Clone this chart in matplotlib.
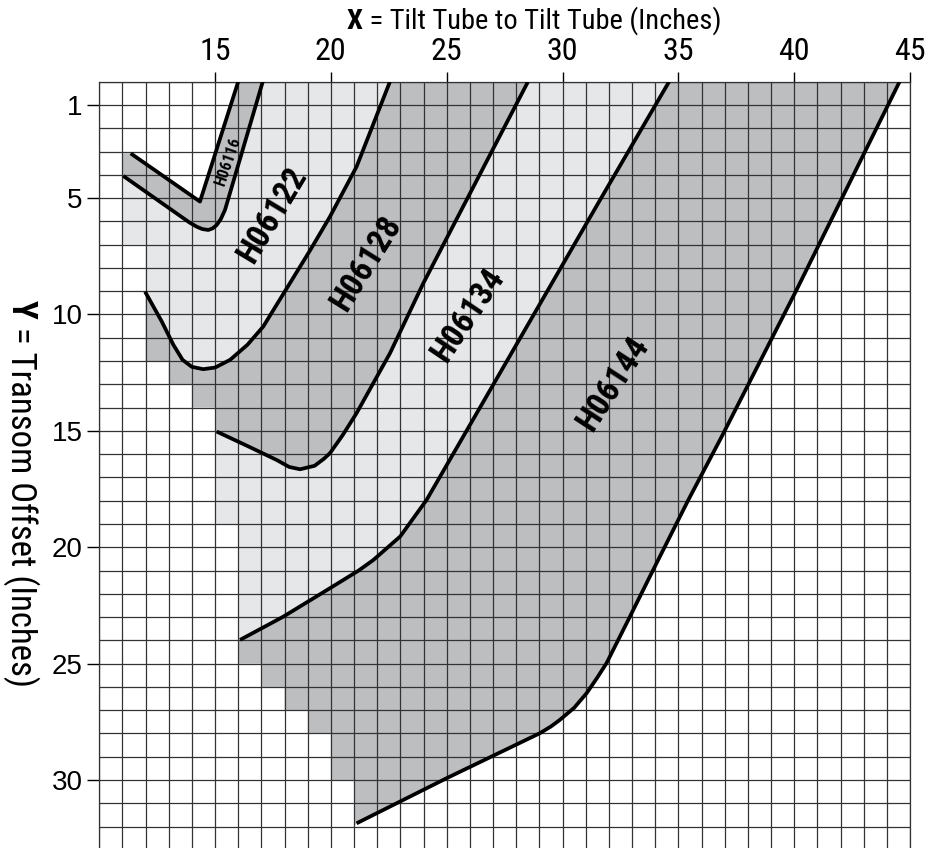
import matplotlib
matplotlib.use('Agg')
import matplotlib.pyplot as plt
from matplotlib.patches import Polygon
from matplotlib.ticker import MultipleLocator

NARROW = ['Roboto Condensed', 'PT Sans Narrow', 'DejaVu Sans']
REGULAR = ['Liberation Sans', 'DejaVu Sans']
plt.rcParams['font.family'] = NARROW

LIGHT = '#e6e7e8'
DARK = '#bcbec0'

# boundary curves: each runs from its lower-left end up to the top edge
edge_a_x = [11.36, 14.35, 16.0]                      # upper edge of H06116
edge_a_y = [3.08, 5.15, 0.0]
edge_b_x = [11.04, 13.9, 14.21, 14.45, 14.71, 14.9, 15.07, 15.25, 15.43, 17.06]
edge_b_y = [4.05, 6.05, 6.23, 6.33, 6.37, 6.3, 6.16, 5.9, 5.51, 0.0]
edge_c_x = [11.98, 12.7, 13.2, 13.6, 14.0, 14.49, 15.0, 15.65, 16.4, 17.08, 18.23, 19.1,
            19.96, 21.11, 22.55]
edge_c_y = [9.02, 10.3, 11.3, 11.95, 12.25, 12.35, 12.28, 11.95, 11.3, 10.52, 8.66, 7.25,
            5.8, 3.65, 0.0]
edge_d_x = [15.07, 16.4, 17.66, 18.2, 18.67, 19.3, 19.7, 19.96, 20.5, 21.11, 22.55, 23.99, 28.51]
edge_d_y = [15.03, 15.65, 16.25, 16.55, 16.65, 16.5, 16.2, 15.96, 15.2, 14.24, 11.67, 8.66, 0.0]
edge_e_x = [16.08, 17.95, 19.96, 21.2, 21.83, 22.99, 24.13, 31.62, 34.6]
edge_e_y = [23.98, 22.98, 21.76, 21.0, 20.55, 19.54, 17.97, 5.08, 0.0]
edge_f_x = [21.11, 25.0, 29.02, 29.5, 29.88, 30.5, 31.04, 31.5, 31.9, 32.91, 33.91, 35.43,
            36.87, 40.1, 44.55]
edge_f_y = [31.86, 29.92, 27.99, 27.7, 27.42, 26.9, 26.27, 25.6, 24.98, 22.98, 20.98, 17.97,
            15.25, 8.95, 0.0]

# stepped left side of each band: grid column -> lowest row it reaches
h06116_cols, h06116_rows = [11], [4.05]
h06122_cols, h06122_rows = [11, 12], [7, 9]
h06128_cols, h06128_rows = [12, 13, 14, 15], [12, 13, 14, 15]
h06134_cols, h06134_rows = [15, 16], [19, 24]
h06144_cols, h06144_rows = [16, 17, 18, 19, 20, 21], [25, 26, 27, 28, 30, 32]

labels = ['H06116', 'H06122', 'H06128', 'H06134', 'H06144']
label_x = [15.55, 17.49, 21.55, 25.94, 32.2]
label_y = [3.45, 5.73, 7.8, 10.02, 13.0]
label_rot = [71, 59, 58, 56, 57]
label_size = [11.5, 24, 24, 24, 24]

x_ticks = [15, 20, 25, 30, 35, 40, 45]
y_ticks = [1, 5, 10, 15, 20, 25, 30]


def band(ux, uy, lx, ly, cols, rows):
    pts = list(zip(ux[::-1], uy[::-1]))
    y = uy[0]
    for c, r in zip(cols, rows):
        pts += [(c, y), (c, r)]
        y = r
    pts += list(zip(lx, ly))
    return pts


fig = plt.figure(figsize=(9.42, 8.48), dpi=100)
ax = fig.add_axes([99.2 / 942, 0, 810.8 / 942, 766.3 / 848])
ax.set_xlim(10, 45)
ax.set_ylim(32.92, 0)

bands = [
    (edge_a_x, edge_a_y, edge_b_x, edge_b_y, h06116_cols, h06116_rows, DARK),
    (edge_b_x, edge_b_y, edge_c_x, edge_c_y, h06122_cols, h06122_rows, LIGHT),
    (edge_c_x, edge_c_y, edge_d_x, edge_d_y, h06128_cols, h06128_rows, DARK),
    (edge_d_x, edge_d_y, edge_e_x, edge_e_y, h06134_cols, h06134_rows, LIGHT),
    (edge_e_x, edge_e_y, edge_f_x, edge_f_y, h06144_cols, h06144_rows, DARK),
]
for ux, uy, lx, ly, cols, rows, col in bands:
    ax.add_patch(Polygon(band(ux, uy, lx, ly, cols, rows), closed=True,
                         facecolor=col, edgecolor='none', zorder=0.2))

for ex, ey in [(edge_a_x, edge_a_y), (edge_b_x, edge_b_y), (edge_c_x, edge_c_y),
               (edge_d_x, edge_d_y), (edge_e_x, edge_e_y), (edge_f_x, edge_f_y)]:
    ax.plot(ex, ey, color='black', lw=2.7, solid_joinstyle='round',
            solid_capstyle='butt', zorder=3)

for name, lx, ly, rot, fs in zip(labels, label_x, label_y, label_rot, label_size):
    ax.text(lx, ly, name, rotation=rot, rotation_mode='anchor', ha='center',
            va='center', fontsize=fs, fontweight='bold', zorder=4)

# grid
ax.set_axisbelow(True)
ax.xaxis.set_ticks_position('top')
ax.xaxis.set_label_position('top')
ax.set_xticks(x_ticks)
ax.set_yticks(y_ticks)
ax.xaxis.set_minor_locator(MultipleLocator(1))
ax.yaxis.set_minor_locator(MultipleLocator(1))
ax.tick_params(which='minor', length=0)
ax.tick_params(axis='x', which='major', length=7, width=1, pad=4, labelsize=23)
ax.tick_params(axis='y', which='major', length=9, width=1, pad=3, labelsize=20)
for lab in ax.get_yticklabels():
    lab.set_family(REGULAR)
ax.grid(which='both', color='#333333', lw=0.9)
for s in ['top', 'left', 'right']:
    ax.spines[s].set_color('#333333')
    ax.spines[s].set_linewidth(0.9)
ax.spines['bottom'].set_visible(False)

# axis titles, bold letter followed by plain text
tx = fig.text(347 / 942, 1 - 29 / 848, 'X', fontsize=20.5, fontweight='bold',
              ha='left', va='baseline')
ax.annotate(' = Tilt Tube to Tilt Tube (Inches)', xy=(1, 0), xycoords=tx,
            fontsize=20.5, ha='left', va='bottom', annotation_clip=False)

ty = fig.text(21 / 942, 1 - 300 / 848, 'Y', fontsize=25, fontweight='bold',
              rotation=270, ha='center', va='top')
ax.annotate(' = Transom Offset (Inches)', xy=(0.5, 0), xycoords=ty,
            fontsize=25, rotation=270, ha='center', va='top', annotation_clip=False)

fig.savefig('out.png', dpi=100)
